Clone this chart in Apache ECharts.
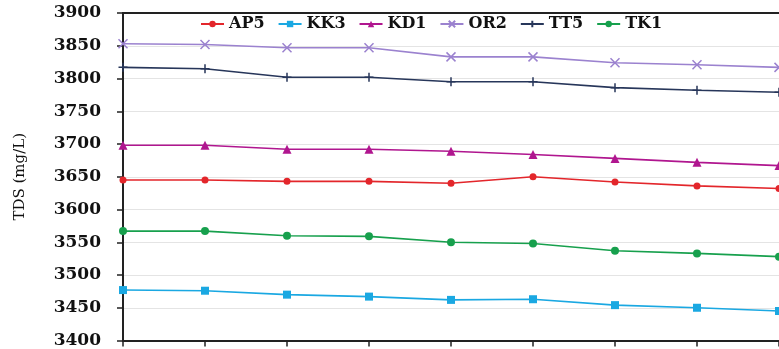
<!DOCTYPE html>
<html><head><meta charset="utf-8">
<script src="https://cdn.jsdelivr.net/npm/echarts@6/dist/echarts.min.js"></script>
<style>html,body{margin:0;padding:0;background:#fff}#c{width:779px;height:349px}</style>
</head><body><div id="c"></div>
<script>
const categories = ['1','2','3','4','5','6','7','8','9'];
const AP5 = [3645, 3645, 3643, 3643, 3640, 3650, 3642, 3636, 3632];
const KK3 = [3477, 3476, 3470, 3467, 3462, 3463, 3454, 3450, 3445];
const KD1 = [3698, 3698, 3692, 3692, 3689, 3684, 3678, 3672, 3667];
const OR2 = [3853, 3852, 3847, 3847, 3833, 3833, 3824, 3821, 3817];
const TT5 = [3817, 3815, 3802, 3802, 3795, 3795, 3786, 3782, 3779];
const TK1 = [3567, 3567, 3560, 3559, 3550, 3548, 3537, 3533, 3528];
const yTicks = {min: 3400, max: 3900, interval: 50};

const serif = 'DejaVu Serif';
function s(name, data, color, symbol, size, stroke) {
  return {
    name, type: 'line', data, symbol, symbolSize: size,
    lineStyle: {color, width: 1.6},
    itemStyle: stroke ? {color: color, borderColor: color, borderWidth: 1.5} : {color},
    emphasis: {disabled: true}
  };
}
const xMark = 'path://M0,0L10,10M10,0L0,10';
const plusMark = 'path://M5,0L5,10M0,5L10,5';
const chart = echarts.init(document.getElementById('c'));
chart.setOption({
  animation: false,
  grid: {left: 123, top: 13, right: -3, bottom: 7},
  legend: {
    left: 195, top: 11, itemWidth: 23, itemHeight: 8, itemGap: 13,
    textStyle: {fontFamily: serif, fontWeight: 'bold', fontSize: 16, color: '#111'},
    data: ['AP5','KK3','KD1','OR2','TT5','TK1']
  },
  xAxis: [{
    type: 'category', data: categories, boundaryGap: false,
    axisLine: {lineStyle: {color: '#222', width: 2}},
    axisTick: {show: true, length: 6, inside: false, lineStyle: {color: '#222', width: 1.5}},
    axisLabel: {show: false}, splitLine: {show: false}
  }, {
    type: 'category', data: categories, boundaryGap: false, position: 'top',
    axisLine: {show: true, lineStyle: {color: '#222', width: 2}},
    axisTick: {show: false}, axisLabel: {show: false}
  }],
  yAxis: {
    type: 'value', min: yTicks.min, max: yTicks.max, interval: yTicks.interval,
    name: 'TDS (mg/L)', nameLocation: 'middle', nameGap: 95,
    nameTextStyle: {fontFamily: serif, fontSize: 15, color: '#111'},
    axisLine: {show: true, lineStyle: {color: '#222', width: 2}},
    axisTick: {show: true, length: 6, lineStyle: {color: '#222', width: 1.5}},
    axisLabel: {fontFamily: serif, fontWeight: 'bold', fontSize: 17, color: '#111', margin: 22,
      formatter: v => String(v)},
    splitLine: {lineStyle: {color: '#e4e4e4', width: 1}}
  },
  series: [
    s('AP5', AP5, '#e3262b', 'circle', 7),
    s('KK3', KK3, '#1aa8e2', 'rect', 8),
    s('KD1', KD1, '#b0168f', 'triangle', 9),
    s('OR2', OR2, '#9b82cf', xMark, 9, true),
    s('TT5', TT5, '#27365a', plusMark, 9, true),
    s('TK1', TK1, '#17a04d', 'circle', 8)
  ]
});
</script></body></html>
